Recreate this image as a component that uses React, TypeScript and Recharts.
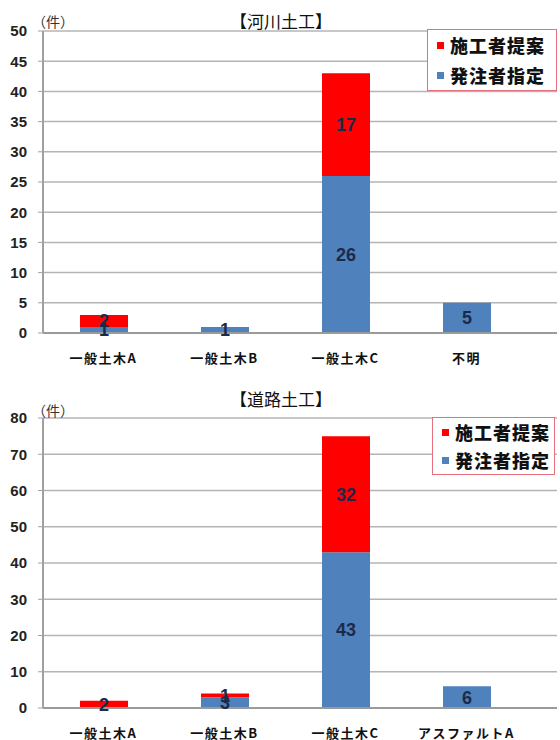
import React from 'react';
import {
  BarChart,
  Bar,
  XAxis,
  YAxis,
  CartesianGrid,
  LabelList
} from 'recharts';

// 河川土工
const riverCategories = ['一般土木A', '一般土木B', '一般土木C', '不明'];
const riverOwner = [1, 1, 26, 5];
const riverContractor = [2, 0, 17, 0];
const riverTicks = [0, 5, 10, 15, 20, 25, 30, 35, 40, 45, 50];

// 道路土工
const roadCategories = ['一般土木A', '一般土木B', '一般土木C', 'アスファルトA'];
const roadOwner = [0, 3, 43, 6];
const roadContractor = [2, 1, 32, 0];
const roadTicks = [0, 10, 20, 30, 40, 50, 60, 70, 80];

const seriesNames = { owner: '発注者指定', contractor: '施工者提案' };

const RED = '#ff0000';
const BLUE = '#4f81bd';
const JP = '"Noto Sans CJK JP", "Noto Sans", sans-serif';
const NUM = '"Liberation Sans", Arial, sans-serif';

const buildRows = (cats: string[], owner: number[], contractor: number[]) =>
  cats.map((name, i) => ({
    name,
    owner: owner[i] || null,
    contractor: contractor[i] || null
  }));

const CategoryTick = ({ x, y, payload }: any) => (
  <text
    x={x}
    y={y + 24}
    textAnchor="middle"
    dominantBaseline="central"
    fontFamily={JP}
    fontWeight="bold"
    fontSize={13}
    letterSpacing={1.5}
    fill="#111"
  >
    {payload.value}
  </text>
);

const LegendBox = ({ box }: any) => (
  <div
    style={{
      position: 'absolute',
      top: box.top,
      left: box.left,
      width: box.width,
      height: box.height,
      border: '1px solid #e8707e',
      background: '#fff',
      boxSizing: 'border-box',
      display: 'flex',
      flexDirection: 'column',
      justifyContent: 'center',
      gap: box.gap,
      paddingLeft: 9
    }}
  >
    {[
      { label: seriesNames.contractor, color: RED },
      { label: seriesNames.owner, color: BLUE }
    ].map((it) => (
      <div key={it.label} style={{ display: 'flex', alignItems: 'center', height: 20 }}>
        <span style={{ width: 7, height: 7, background: it.color, marginRight: 6, display: 'inline-block' }} />
        <span style={{ fontFamily: JP, fontWeight: 900, fontSize: 18, color: '#111', letterSpacing: 1 }}>
          {it.label}
        </span>
      </div>
    ))}
  </div>
);

const labelFmt = (v: any) => (v ? v : '');

interface PanelProps {
  title: string;
  rows: any[];
  ticks: number[];
  top: number;
  height: number;
  plotTop: number;
  axisHeight: number;
  titleY: number;
  unitY: number;
  legendBox: { top: number; left: number; width: number; height: number; gap: number };
}

function Panel({ title, rows, ticks, top, height, plotTop, axisHeight, titleY, unitY, legendBox }: PanelProps) {
  return (
    <div style={{ position: 'absolute', left: 0, top, width: 560, height }}>
      <BarChart
        width={560}
        height={height}
        data={rows}
        margin={{ top: plotTop, right: 3, bottom: 0, left: 0 }}
        barSize={48}
      >
        <CartesianGrid vertical={false} stroke="#b4b4b4" strokeWidth={1.5} />
        <XAxis
          dataKey="name"
          height={axisHeight}
          padding={{ left: 0, right: 30 }}
          axisLine={{ stroke: '#9a9a9a', strokeWidth: 2 }}
          tickLine={false}
          tickSize={0}
          tickMargin={0}
          tick={<CategoryTick />}
          interval={0}
        />
        <YAxis
          width={43}
          domain={[0, ticks[ticks.length - 1]]}
          ticks={ticks}
          interval={0}
          axisLine={{ stroke: '#a0a0a0', strokeWidth: 2 }}
          tickLine={{ stroke: '#a0a0a0' }}
          tickSize={5}
          tickMargin={11}
          tick={{ fill: '#222', fontSize: 15, fontWeight: 'bold', fontFamily: NUM }}
        />
        <Bar dataKey="owner" name={seriesNames.owner} stackId="s" fill={BLUE} isAnimationActive={false}>
          <LabelList
            dataKey="owner"
            position="center"
            formatter={labelFmt}
            fill="#1c2a4a"
            fontSize={18}
            fontWeight="bold"
            fontFamily={NUM}
          />
        </Bar>
        <Bar dataKey="contractor" name={seriesNames.contractor} stackId="s" fill={RED} isAnimationActive={false}>
          <LabelList
            dataKey="contractor"
            position="center"
            formatter={labelFmt}
            fill="#1c2a4a"
            fontSize={18}
            fontWeight="bold"
            fontFamily={NUM}
          />
        </Bar>
      </BarChart>
      <div
        style={{
          position: 'absolute',
          left: 0,
          width: 562,
          top: titleY - 11,
          textAlign: 'center',
          fontFamily: JP,
          fontSize: 17,
          lineHeight: '22px',
          color: '#111'
        }}
      >
        {title}
      </div>
      <div
        style={{
          position: 'absolute',
          left: 32,
          top: unitY - 10,
          fontFamily: JP,
          fontSize: 14,
          lineHeight: '20px',
          color: '#333'
        }}
      >
        （件）
      </div>
      <LegendBox box={legendBox} />
    </div>
  );
}

export default function App() {
  const river = buildRows(riverCategories, riverOwner, riverContractor);
  const road = buildRows(roadCategories, roadOwner, roadContractor);
  return (
    <div style={{ position: 'relative', width: 560, height: 740, background: '#fff', overflow: 'hidden' }}>
      <style>{'body{margin:0;}'}</style>
      <Panel
        title="【河川土工】"
        rows={river}
        ticks={riverTicks}
        top={0}
        height={370}
        plotTop={31}
        axisHeight={37}
        titleY={21}
        unitY={21}
        legendBox={{ top: 29, left: 427, width: 130, height: 62, gap: 10 }}
      />
      <Panel
        title="【道路土工】"
        rows={road}
        ticks={roadTicks}
        top={370}
        height={370}
        plotTop={48}
        axisHeight={32}
        titleY={29}
        unitY={40}
        legendBox={{ top: 47, left: 432, width: 123, height: 58, gap: 8 }}
      />
    </div>
  );
}
